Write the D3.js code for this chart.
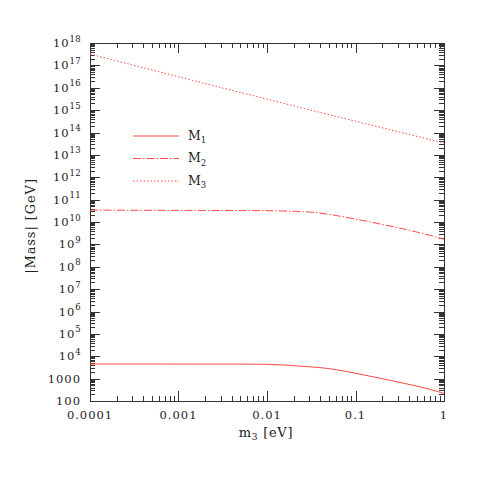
<!DOCTYPE html>
<html>
<head>
<meta charset="utf-8">
<script src="https://cdn.jsdelivr.net/npm/d3@7"></script>
<style>
  body { margin: 0; background: #fff; }
  svg text { font-family: "DejaVu Serif", "Liberation Serif", serif; fill: #222; }
</style>
</head>
<body>
<svg id="chart" width="485" height="491"></svg>
<script>
// values
let m3Vals = [0.0001, 0.001, 0.005, 0.01, 0.02, 0.03, 0.05, 0.1, 0.2, 0.3, 0.5, 0.7, 1];
let m1Vals = [4500, 4480, 4450, 4370, 3800, 3390, 2820, 1740, 1000, 708, 457, 331, 219];
let m2Vals = [3.4e10, 3.3e10, 3.25e10, 3.2e10, 3.0e10, 2.8e10, 2.2e10, 1.35e10, 7.8e9, 5.6e9, 3.5e9, 2.5e9, 1.7e9];
let m3LineX = [0.0001, 0.001, 0.01, 0.1, 1];
let m3LineY = [3.2e17, 3.1e16, 3.1e15, 3.2e14, 3.4e13];

let xTickVals = [0.0001, 0.001, 0.01, 0.1, 1];
let xTickLabels = ['0.0001', '0.001', '0.01', '0.1', '1'];
let yTickExps = d3.range(2, 19);

let legendNames = ['1', '2', '3'];
let dashes = [null, '8,2,1.5,2', '1.5,2'];
let red = '#ff4848';

let box = {left: 90, top: 43, right: 444, bottom: 401};
let svg = d3.select('#chart');

let x = d3.scaleLog().domain([0.0001, 1]).range([box.left, box.right]);
let y = d3.scaleLog().domain([100, 1e18]).range([box.bottom, box.top]);

// minor + major ticks
let xMinor = [], yMinor = [];
for (let e = -4; e < 0; e++) for (let k = 2; k < 10; k++) xMinor.push(k * Math.pow(10, e));
for (let e = 2; e < 18; e++) for (let k = 2; k < 10; k++) yMinor.push(k * Math.pow(10, e));

let tickG = svg.append('g').attr('stroke', '#333').attr('stroke-width', 1).attr('shape-rendering', 'crispEdges');

let drawXTicks = function(vals, len) {
  vals.forEach(function(v) {
    let px = Math.round(x(v)) + 0.5;
    tickG.append('line').attr('x1', px).attr('x2', px).attr('y1', box.bottom).attr('y2', box.bottom - len);
    tickG.append('line').attr('x1', px).attr('x2', px).attr('y1', box.top).attr('y2', box.top + len);
  });
}
let drawYTicks = function(vals, len) {
  vals.forEach(function(v) {
    let py = Math.round(y(v)) + 0.5;
    tickG.append('line').attr('y1', py).attr('y2', py).attr('x1', box.left).attr('x2', box.left + len);
    tickG.append('line').attr('y1', py).attr('y2', py).attr('x1', box.right).attr('x2', box.right - len);
  });
}
drawXTicks(xMinor, 5);
drawXTicks(xTickVals, 10);
drawYTicks(yMinor, 5);
drawYTicks(yTickExps.map(e => Math.pow(10, e)), 10);

// frame
svg.append('rect')
  .attr('x', box.left + 0.5).attr('y', box.top + 0.5)
  .attr('width', box.right - box.left).attr('height', box.bottom - box.top)
  .attr('fill', 'none').attr('stroke', '#333').attr('stroke-width', 1)
  .attr('shape-rendering', 'crispEdges');

// x tick labels
xTickVals.forEach(function(v, i) {
  svg.append('text').attr('x', x(v)).attr('y', 419)
    .attr('text-anchor', 'middle').attr('font-size', 11.5).attr('letter-spacing', 1)
    .text(xTickLabels[i]);
});

// y tick labels
yTickExps.forEach(function(e) {
  let t = svg.append('text').attr('x', 81).attr('y', y(Math.pow(10, e)) + 4)
    .attr('text-anchor', 'end').attr('font-size', 11.5).attr('letter-spacing', 1);
  if (e == 2) t.text('100');
  else if (e == 3) t.text('1000');
  else {
    t.append('tspan').text('10');
    t.append('tspan').attr('font-size', 8.5).attr('letter-spacing', 0.3).attr('dy', -5.5).text(e);
  }
});

// axis titles
let xt = svg.append('text').attr('x', 266).attr('y', 437).attr('text-anchor', 'middle').attr('font-size', 13).attr('letter-spacing', 0.7);
xt.append('tspan').text('m');
xt.append('tspan').attr('font-size', 9).attr('dy', 3).text('3');
xt.append('tspan').attr('dy', -3).text(' [eV]');

svg.append('text').attr('transform', 'translate(35,226) rotate(-90)')
  .attr('text-anchor', 'middle').attr('font-size', 13).attr('letter-spacing', 0.9)
  .text('|Mass| [GeV]');

// curves
let line = d3.line().x(d => x(d[0])).y(d => y(d[1])).curve(d3.curveMonotoneX);
let series = [
  d3.zip(m3Vals, m1Vals),
  d3.zip(m3Vals, m2Vals),
  d3.zip(m3LineX, m3LineY)
];
let plot = svg.append('g');
series.forEach(function(s, i) {
  plot.append('path').attr('d', line(s))
    .attr('fill', 'none').attr('stroke', red).attr('stroke-width', 1)
    .attr('stroke-dasharray', dashes[i]);
});

// legend
legendNames.forEach(function(n, i) {
  let ly = 136 + i * 22.5;
  svg.append('line').attr('x1', 133).attr('x2', 179).attr('y1', ly).attr('y2', ly)
    .attr('stroke', red).attr('stroke-width', 1).attr('stroke-dasharray', dashes[i]);
  let t = svg.append('text').attr('x', 188).attr('y', ly + 3.5).attr('font-size', 12.5);
  t.append('tspan').text('M');
  t.append('tspan').attr('font-size', 8.5).attr('dy', 3.5).text(n);
});
</script>
</body>
</html>
